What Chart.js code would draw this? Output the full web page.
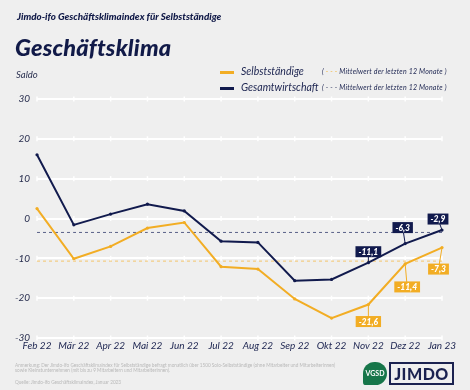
<!DOCTYPE html>
<html>
<head>
<meta charset="utf-8">
<script src="https://cdn.jsdelivr.net/npm/chart.js@4"></script>
<style>
    html, body { margin: 0; padding: 0; background: #efefef; }
    #wrap { position: relative; width: 470px; height: 390px; overflow: hidden; font-family: Lato, "Open Sans", sans-serif; color: #111a48; }
    #wrap canvas { position: absolute; left: 0; top: 0; }
    .t { position: absolute; white-space: nowrap; font-style: italic; }
    .sub { left: 17px; top: 10px; font-size: 9.8px; font-weight: 900; }
    .title { left: 15px; top: 33px; font-size: 23.5px; font-weight: 900; letter-spacing: 0.2px; }
    .saldo { left: 16px; top: 69px; font-size: 9.5px; color: #2a3050; }
    .leg { font-size: 10.5px; color: #1c2450; }
    .mean { font-size: 7px; color: #1c2450; letter-spacing: 0.2px; }
    .swatch { position: absolute; width: 14px; height: 3px; }
    .note { position: absolute; left: 15px; font-size: 4.7px; color: #b9b9b9; white-space: nowrap; line-height: 5.3px; }
    .vgsd { position: absolute; left: 363px; top: 362px; width: 24px; height: 23px; border-radius: 12px 12px 12px 3px; background: #17764a; color: #fff; font: bold 7px Lato, sans-serif; text-align: center; line-height: 23px; }
    .jimdo { position: absolute; left: 389px; top: 362px; width: 61px; height: 19px; border: 2px solid #1b2250; color: #1b2250; font: 900 16px Lato, sans-serif; text-align: center; line-height: 19px; letter-spacing: 0.5px; }
</style>
</head>
<body>
<div id="wrap">
    <canvas id="chart" width="470" height="390"></canvas>
    <div class="t sub">Jimdo-ifo Geschäftsklimaindex für Selbstständige</div>
    <div class="t title">Geschäftsklima</div>
    <div class="t saldo">Saldo</div>

    <div class="swatch" style="left:220px; top:71px; background:#f2ad24;"></div>
    <div class="t leg" style="left:241px; top:65px;">Selbstständige</div>
    <div class="t mean" style="left:322px; top:67px;">( <span style="color:#f2ad24">- - -</span> Mittelwert der letzten 12 Monate )</div>
    <div class="swatch" style="left:220px; top:87px; background:#111a4d;"></div>
    <div class="t leg" style="left:241px; top:81px;">Gesamtwirtschaft</div>
    <div class="t mean" style="left:322px; top:83px;">( - - - Mittelwert der letzten 12 Monate )</div>

    <div class="note" style="top:363px;">Anmerkung: Der Jimdo-ifo Geschäftsklimaindex für Selbstständige befragt monatlich über 1500 Solo-Selbstständige (ohne Mitarbeiter und Mitarbeiterinnen)<br>sowie Kleinstunternehmen (mit bis zu 9 Mitarbeitern und Mitarbeiterinnen).</div>
    <div class="note" style="top:380px;">Quelle: Jimdo-ifo Geschäftsklimaindex, Januar 2023</div>
    <div class="vgsd">VGSD</div>
    <div class="jimdo">JIMDO</div>
</div>
<script>
const months = ['Feb 22', 'Mär 22', 'Apr 22', 'Mai 22', 'Jun 22', 'Jul 22', 'Aug 22', 'Sep 22', 'Okt 22', 'Nov 22', 'Dez 22', 'Jan 23'];
const selbststaendige = [2.5, -10.1, -7.0, -2.4, -1.0, -12.1, -12.7, -20.2, -25.0, -21.6, -11.4, -7.3];
const gesamtwirtschaft = [16.0, -1.6, 1.1, 3.6, 1.9, -5.7, -6.0, -15.6, -15.3, -11.1, -6.3, -2.9];
const mittelSelbst = [-10.7, -10.7, -10.7, -10.7, -10.7, -10.7, -10.7, -10.7, -10.7, -10.7, -10.7, -10.7];
const mittelGesamt = [-3.5, -3.5, -3.5, -3.5, -3.5, -3.5, -3.5, -3.5, -3.5, -3.5, -3.5, -3.5];
const yTicks = [-30, -20, -10, 0, 10, 20, 30];

const NAVY = '#111a4d';
const GOLD = '#f2ad24';

// which points get a value box, and where the box sits relative to the point
const valueBoxes = [
    { ds: 1, i: 9, dx: 0, dy: -11 },
    { ds: 1, i: 10, dx: -2.5, dy: -16 },
    { ds: 1, i: 11, dx: -4, dy: -11 },
    { ds: 0, i: 9, dx: 0, dy: 17 },
    { ds: 0, i: 10, dx: 2, dy: 23 },
    { ds: 0, i: 11, dx: -3.5, dy: 21.5 },
];

// small white stubs on the grid lines at every month
let gridStubs = {
    id: 'gridStubs',
    beforeDatasetsDraw(chart) {
        const ctx = chart.ctx, x = chart.scales.x, y = chart.scales.y;
        ctx.save();
        ctx.strokeStyle = '#ffffff';
        ctx.lineWidth = 1.5;
        yTicks.forEach((v) => {
            const py = y.getPixelForValue(v);
            months.forEach((m, i) => {
                const px = x.getPixelForValue(i);
                ctx.beginPath();
                ctx.moveTo(px, py - 2.5);
                ctx.lineTo(px, py + 2.5);
                ctx.stroke();
            });
        });
        ctx.restore();
    }
};

let boxLabels = {
    id: 'boxLabels',
    afterDatasetsDraw(chart) {
        const ctx = chart.ctx;
        ctx.save();
        ctx.font = 'italic 900 8.5px Lato, sans-serif';
        ctx.textAlign = 'center';
        ctx.textBaseline = 'middle';
        valueBoxes.forEach((b) => {
            const pt = chart.getDatasetMeta(b.ds).data[b.i];
            const val = chart.data.datasets[b.ds].data[b.i];
            const col = chart.data.datasets[b.ds].borderColor;
            const txt = val.toFixed(1).replace('.', ',');
            const cx = pt.x + b.dx, cy = pt.y + b.dy;
            const w = ctx.measureText(txt).width + 6, h = 11;
            ctx.strokeStyle = col;
            ctx.lineWidth = 1;
            ctx.beginPath();
            ctx.moveTo(pt.x, pt.y);
            ctx.lineTo(cx, cy);
            ctx.stroke();
            ctx.fillStyle = col;
            ctx.fillRect(cx - w / 2, cy - h / 2, w, h);
            ctx.fillStyle = '#ffffff';
            ctx.fillText(txt, cx, cy + 0.5);
        });
        ctx.restore();
    }
};

new Chart(document.getElementById('chart'), {
    type: 'line',
    data: {
        labels: months,
        datasets: [
            {
                label: 'Selbstständige',
                data: selbststaendige,
                borderColor: GOLD,
                backgroundColor: GOLD,
                borderWidth: 2,
                pointRadius: 1.6,
                pointBorderWidth: 0,
                tension: 0,
                order: 1,
            },
            {
                label: 'Gesamtwirtschaft',
                data: gesamtwirtschaft,
                borderColor: NAVY,
                backgroundColor: NAVY,
                borderWidth: 2,
                pointRadius: 1.6,
                pointBorderWidth: 0,
                tension: 0,
                order: 0,
            },
            {
                label: 'Mittelwert Selbstständige',
                data: mittelSelbst,
                borderColor: '#f3c46a',
                borderWidth: 1,
                borderDash: [3, 3],
                pointRadius: 0,
                order: 3,
            },
            {
                label: 'Mittelwert Gesamtwirtschaft',
                data: mittelGesamt,
                borderColor: '#5a6189',
                borderWidth: 1,
                borderDash: [3, 3],
                pointRadius: 0,
                order: 2,
            }
        ]
    },
    options: {
        responsive: false,
        animation: false,
        layout: {
            padding: { left: 0, right: 28, top: 99, bottom: 32 }
        },
        plugins: {
            legend: { display: false },
            tooltip: { enabled: false },
        },
        scales: {
            x: {
                offset: false,
                grid: { display: false, drawTicks: false },
                border: { display: false },
                ticks: {
                    color: '#1c2450',
                    font: { family: 'Lato', style: 'italic', size: 10 },
                    padding: 2,
                    maxRotation: 0,
                    autoSkip: false,
                },
                afterFit: (s) => { s.height = 20; },
            },
            y: {
                min: -30,
                max: 30,
                afterBuildTicks: (s) => { s.ticks = yTicks.map((v) => ({ value: v })); },
                grid: {
                    color: '#ffffff',
                    lineWidth: 2,
                    drawTicks: false,
                },
                border: { display: false },
                ticks: {
                    color: '#2a3050',
                    font: { family: 'Lato', style: 'italic', size: 10 },
                    padding: 7,
                },
                afterFit: (s) => { s.width = 37; },
            }
        }
    },
    plugins: [gridStubs, boxLabels]
});
</script>
</body>
</html>
